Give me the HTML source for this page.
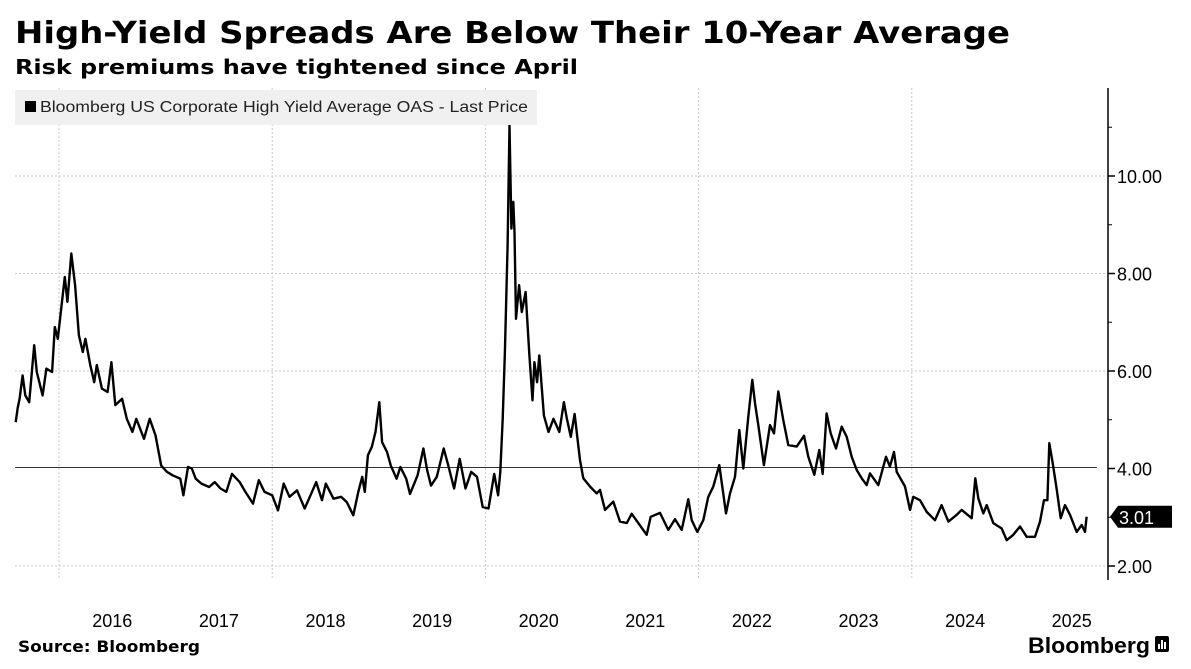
<!DOCTYPE html>
<html><head><meta charset="utf-8">
<style>
html,body{margin:0;padding:0;background:#fff;}
svg{display:block;font-family:"DejaVu Sans","Liberation Sans",sans-serif;}
</style></head>
<body>
<svg id="chart" width="1191" height="669" viewBox="0 0 1191 669" xmlns="http://www.w3.org/2000/svg">
  <rect width="1191" height="669" fill="#fff"/>
  <text x="15" y="43" font-size="30" font-weight="bold" fill="#000" textLength="995" lengthAdjust="spacingAndGlyphs">High-Yield Spreads Are Below Their 10-Year Average</text>
  <text x="15" y="74" font-size="20" font-weight="bold" fill="#000" textLength="563" lengthAdjust="spacingAndGlyphs">Risk premiums have tightened since April</text>
  <g id="grid"></g>
  <g id="avg"></g>
  <g id="series"></g>
  <g>
    <rect x="15" y="90" width="522" height="35" fill="#f0f0f0"/>
    <rect x="25" y="101" width="11" height="11" fill="#000"/>
    <text x="40" y="112" font-size="15.5" fill="#222" font-family="Liberation Sans, sans-serif" textLength="488" lengthAdjust="spacingAndGlyphs">Bloomberg US Corporate High Yield Average OAS - Last Price</text>
  </g>
  <g id="yaxis"></g>
  <g id="xaxis"></g>
  <g id="lastlbl"></g>
  <text x="18" y="652" font-size="16" font-weight="bold" fill="#000" textLength="182" lengthAdjust="spacingAndGlyphs">Source: Bloomberg</text>
  <g>
    <text x="1028" y="653" font-size="22" font-weight="bold" fill="#000" textLength="122" lengthAdjust="spacingAndGlyphs" font-family="Liberation Sans, sans-serif">Bloomberg</text>
    <rect x="1155" y="636" width="14" height="16" rx="2" fill="#000"/>
    <rect x="1158" y="644" width="2" height="5" fill="#fff"/>
    <rect x="1161" y="640" width="2" height="9" fill="#fff"/>
    <rect x="1164" y="642" width="2" height="7" fill="#fff"/>
  </g>
</svg>
<script>
const dates = [
2015.594,2015.612,2015.630,2015.659,2015.684,2015.720,2015.767,2015.792,2015.846,2015.882,
2015.935,2015.961,2015.989,2016.054,2016.079,2016.115,2016.151,2016.187,2016.223,2016.248,
2016.294,2016.330,2016.355,2016.402,2016.456,2016.492,2016.528,2016.592,2016.636,2016.689,
2016.725,2016.797,2016.851,2016.905,2016.959,2017.013,2017.066,2017.138,2017.167,2017.210,
2017.246,2017.282,2017.336,2017.408,2017.461,2017.515,2017.569,2017.623,2017.695,2017.749,
2017.820,2017.874,2017.928,2018.000,2018.054,2018.108,2018.162,2018.233,2018.305,2018.359,
2018.413,2018.467,2018.503,2018.575,2018.646,2018.700,2018.761,2018.808,2018.844,2018.869,
2018.898,2018.934,2018.969,2019.005,2019.031,2019.077,2019.113,2019.167,2019.203,2019.257,
2019.293,2019.364,2019.418,2019.454,2019.490,2019.544,2019.609,2019.652,2019.706,2019.759,
2019.813,2019.867,2019.921,2019.975,2020.029,2020.083,2020.119,2020.140,2020.162,2020.183,
2020.208,2020.226,2020.244,2020.262,2020.273,2020.287,2020.316,2020.341,2020.377,2020.413,
2020.442,2020.460,2020.485,2020.506,2020.549,2020.592,2020.639,2020.693,2020.736,2020.765,
2020.801,2020.837,2020.887,2020.918,2020.981,2021.044,2021.075,2021.122,2021.200,2021.263,
2021.326,2021.372,2021.434,2021.513,2021.551,2021.638,2021.716,2021.779,2021.841,2021.903,
2021.935,2021.988,2022.044,2022.091,2022.138,2022.194,2022.257,2022.295,2022.341,2022.382,
2022.419,2022.466,2022.504,2022.529,2022.560,2022.613,2022.670,2022.707,2022.748,2022.795,
2022.841,2022.920,2022.989,2023.029,2023.085,2023.132,2023.164,2023.201,2023.239,2023.289,
2023.342,2023.389,2023.436,2023.483,2023.530,2023.577,2023.608,2023.686,2023.758,2023.795,
2023.833,2023.858,2023.936,2023.983,2024.014,2024.077,2024.140,2024.218,2024.280,2024.343,
2024.421,2024.468,2024.562,2024.596,2024.624,2024.671,2024.703,2024.765,2024.843,2024.890,
2024.952,2025.015,2025.078,2025.156,2025.203,2025.240,2025.272,2025.290,2025.322,2025.360,
2025.397,2025.437,2025.484,2025.547,2025.594,2025.625,2025.640];
const values = [
4.95,5.23,5.43,5.91,5.50,5.36,6.53,5.98,5.50,6.05,
5.98,6.90,6.66,7.93,7.42,8.41,7.76,6.73,6.39,6.66,
6.12,5.77,6.12,5.64,5.57,6.18,5.30,5.43,5.02,4.75,
5.02,4.61,5.02,4.68,4.06,3.93,3.86,3.79,3.45,4.03,
4.00,3.79,3.69,3.62,3.72,3.59,3.52,3.89,3.72,3.52,
3.28,3.76,3.52,3.45,3.14,3.69,3.42,3.55,3.18,3.45,
3.72,3.35,3.69,3.38,3.42,3.31,3.04,3.52,3.83,3.52,
4.27,4.44,4.75,5.36,4.54,4.34,4.06,3.79,4.03,3.79,
3.48,3.86,4.41,3.96,3.65,3.83,4.41,4.06,3.59,4.20,
3.59,3.93,3.83,3.21,3.18,3.89,3.45,3.93,5.02,6.39,
8.58,11.04,8.92,9.47,8.85,7.07,7.76,7.21,7.62,6.32,
5.40,6.18,5.77,6.32,5.09,4.75,5.02,4.75,5.36,5.02,
4.65,5.12,4.17,3.80,3.63,3.49,3.56,3.15,3.32,2.91,
2.88,3.07,2.88,2.64,3.01,3.09,2.74,2.96,2.74,3.37,
2.94,2.70,2.94,3.42,3.63,4.07,3.08,3.49,3.83,4.79,
4.00,5.06,5.82,5.34,4.89,4.07,4.89,4.72,5.58,4.99,
4.48,4.45,4.67,4.24,3.87,4.38,3.89,5.13,4.72,4.41,
4.86,4.65,4.24,3.97,3.80,3.66,3.90,3.66,4.24,4.04,
4.34,3.93,3.63,3.15,3.42,3.35,3.11,2.94,3.25,2.91,
3.05,3.15,2.98,3.80,3.39,3.08,3.25,2.88,2.77,2.53,
2.64,2.81,2.60,2.60,2.91,3.35,3.35,4.52,4.11,3.56,
2.98,3.25,3.05,2.70,2.84,2.70,3.01];
const yTicks = [2,4,6,8,10];
const yTickLabels = ["2.00","4.00","6.00","8.00","10.00"];
const yMinorTicks = [3,5,7,9,11];
const yearLabels = ["2016","2017","2018","2019","2020","2021","2022","2023","2024","2025"];
const yearGridlines = [2016,2018,2020,2022,2024];
const averageValue = 4.02;
const lastValue = 3.01;

const NS = "http://www.w3.org/2000/svg";
const xS = t => 59 + (t - 2016) * 106.6;
const yS = v => 566 - (v - 2) * 48.75;
function mk(tag, attrs, parent){ const e=document.createElementNS(NS,tag); for(const k in attrs) e.setAttribute(k,attrs[k]); parent.appendChild(e); return e; }

const grid = document.getElementById('grid');
yTicks.forEach(v => {
  if (v === 4) return;
  const l = mk('line',{x1:15,x2:1108,y1:yS(v),y2:yS(v),stroke:'#c8c8c8','stroke-width':1,'stroke-dasharray':'2,2'},grid);
  
  
});
yearGridlines.forEach(t => {
  const l = mk('line',{x1:xS(t),x2:xS(t),y1:88,y2:580,stroke:'#c8c8c8','stroke-width':1,'stroke-dasharray':'2,2'},grid);
  
  
});

const avg = document.getElementById('avg');
const al = mk('line',{x1:15,x2:1097,y1:yS(averageValue),y2:yS(averageValue),stroke:'#333','stroke-width':1},avg);



const series = document.getElementById('series');
const n = Math.min(dates.length, values.length);
const pts = [];
for (let i = 0; i < n; i++) pts.push(xS(dates[i]).toFixed(1)+','+yS(values[i]).toFixed(1));
const pl = mk('polyline',{points:pts.join(' '),fill:'none',stroke:'#000','stroke-width':2.4,'stroke-linejoin':'round'},series);



const ya = document.getElementById('yaxis');
mk('line',{x1:1108,x2:1108,y1:88,y2:580,stroke:'#000','stroke-width':1.5},ya);
yTicks.forEach((v,i) => {
  mk('line',{x1:1108,x2:1115,y1:yS(v),y2:yS(v),stroke:'#000','stroke-width':1.5},ya);
  const tx = mk('text',{x:1117,y:yS(v)+7,'font-size':18,fill:'#000','font-family':'Liberation Sans, sans-serif'},ya);
  tx.textContent = yTickLabels[i];
  
  
});
yMinorTicks.forEach(v => {
  mk('line',{x1:1108,x2:1112,y1:yS(v),y2:yS(v),stroke:'#000','stroke-width':1},ya);
});

const xa = document.getElementById('xaxis');
yearLabels.forEach(lbl => {
  const t = Number(lbl) + 0.5;
  const tx = mk('text',{x:xS(t),y:627,'font-size':18,fill:'#000','text-anchor':'middle','font-family':'Liberation Sans, sans-serif'},xa);
  tx.textContent = lbl;
  
  
});

const ll = document.getElementById('lastlbl');
const ly = yS(lastValue);
mk('polygon',{points:`1110,${ly} 1118,${ly-11} 1172,${ly-11} 1172,${ly+11} 1118,${ly+11}`,fill:'#000'},ll);
const lt = mk('text',{x:1119,y:ly+7,'font-size':18,fill:'#fff','font-family':'Liberation Sans, sans-serif'},ll);
lt.textContent = lastValue.toFixed(2);


</script>
</body></html>
